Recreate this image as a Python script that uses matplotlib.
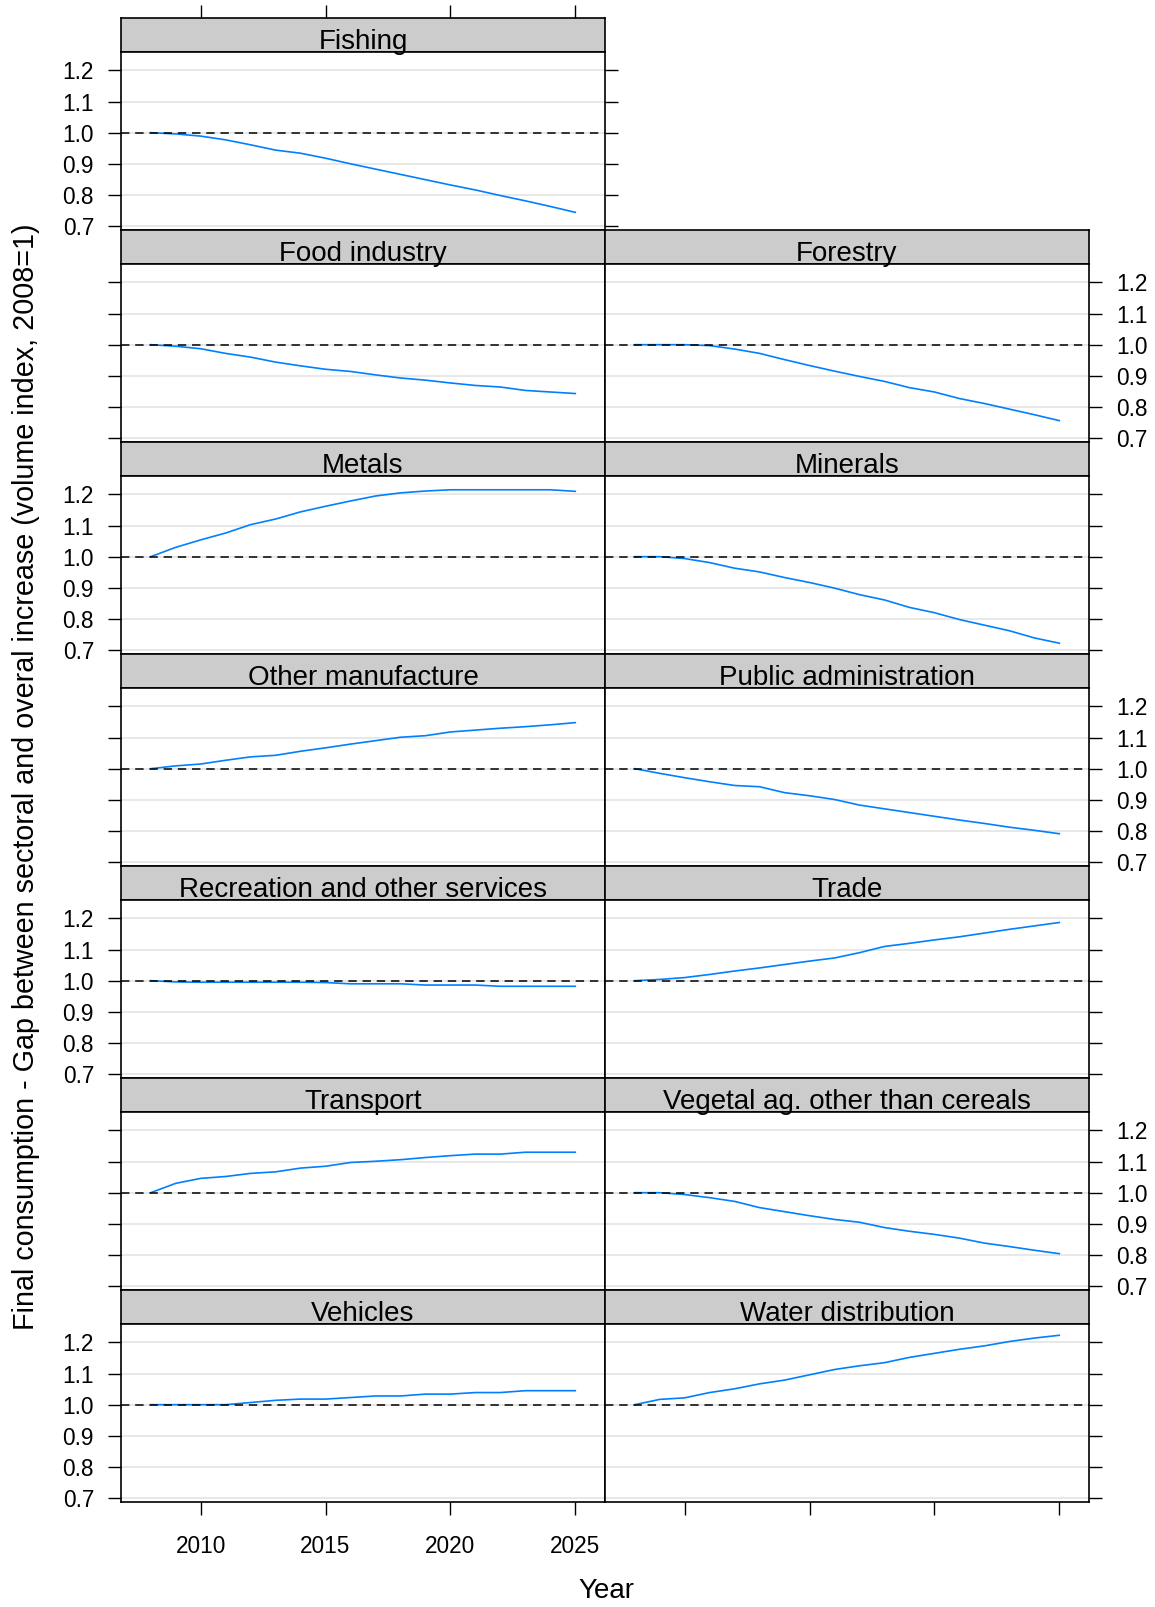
import matplotlib
matplotlib.use("Agg")
from matplotlib import pyplot as plt

years = list(range(2008, 2026))

# values, one list per sector (2008..2025)
fishing = [1.0, 0.996, 0.989, 0.977, 0.961, 0.944, 0.934, 0.918, 0.900, 0.883,
           0.866, 0.849, 0.832, 0.816, 0.798, 0.781, 0.763, 0.744]
food_industry = [1.0, 0.995, 0.987, 0.972, 0.960, 0.944, 0.932, 0.921, 0.914, 0.903,
                 0.893, 0.886, 0.877, 0.869, 0.864, 0.853, 0.848, 0.843]
forestry = [1.0, 1.0, 1.0, 0.997, 0.986, 0.972, 0.952, 0.933, 0.915, 0.898,
            0.882, 0.862, 0.848, 0.827, 0.811, 0.793, 0.775, 0.756]
metals = [1.0, 1.030, 1.054, 1.076, 1.103, 1.121, 1.144, 1.162, 1.179, 1.195,
          1.205, 1.211, 1.215, 1.215, 1.215, 1.215, 1.215, 1.210]
minerals = [1.0, 1.0, 0.994, 0.981, 0.963, 0.951, 0.933, 0.917, 0.899, 0.878,
            0.861, 0.837, 0.820, 0.798, 0.780, 0.762, 0.739, 0.722]
other_manufacture = [1.0, 1.009, 1.015, 1.027, 1.038, 1.043, 1.056, 1.067, 1.079, 1.090,
                     1.101, 1.106, 1.118, 1.124, 1.130, 1.135, 1.141, 1.148]
public_admin = [1.0, 0.985, 0.971, 0.958, 0.946, 0.942, 0.923, 0.913, 0.901, 0.883,
                0.871, 0.859, 0.847, 0.835, 0.824, 0.812, 0.802, 0.791]
recreation = [1.0, 0.996, 0.995, 0.995, 0.995, 0.995, 0.995, 0.994, 0.990, 0.990,
              0.990, 0.986, 0.986, 0.986, 0.982, 0.982, 0.982, 0.982]
trade = [1.0, 1.004, 1.010, 1.020, 1.031, 1.041, 1.052, 1.063, 1.073, 1.090,
         1.110, 1.120, 1.131, 1.141, 1.153, 1.165, 1.176, 1.187]
transport = [1.0, 1.030, 1.046, 1.052, 1.062, 1.067, 1.079, 1.085, 1.097, 1.101,
             1.106, 1.113, 1.119, 1.124, 1.124, 1.130, 1.130, 1.130]
vegetal = [1.0, 1.0, 0.994, 0.984, 0.972, 0.952, 0.939, 0.926, 0.914, 0.905,
           0.888, 0.876, 0.866, 0.854, 0.838, 0.827, 0.815, 0.804]
vehicles = [1.0, 1.0, 1.0, 1.0, 1.007, 1.014, 1.018, 1.018, 1.023, 1.028,
            1.028, 1.034, 1.034, 1.039, 1.039, 1.045, 1.045, 1.045]
water = [1.0, 1.017, 1.022, 1.039, 1.051, 1.067, 1.079, 1.096, 1.113, 1.125,
         1.135, 1.152, 1.165, 1.178, 1.189, 1.203, 1.214, 1.223]

sectors = ["Fishing", "Food industry", "Forestry", "Metals", "Minerals",
           "Other manufacture", "Public administration",
           "Recreation and other services", "Trade", "Transport",
           "Vegetal ag. other than cereals", "Vehicles", "Water distribution"]
series = [fishing, food_industry, forestry, metals, minerals, other_manufacture,
          public_admin, recreation, trade, transport, vegetal, vehicles, water]

y_ticks = [0.7, 0.8, 0.9, 1.0, 1.1, 1.2]
x_ticks = [2010, 2015, 2020, 2025]

W, H = 1155, 1607
plt.rcParams['font.family'] = ['Liberation Sans', 'DejaVu Sans']
fig = plt.figure(figsize=(W / 100, H / 100), dpi=100)

# pixel box (from top-left) -> figure fraction
def box(x0, y0, w, h):
    return [x0 / W, 1 - (y0 + h) / H, w / W, h / H]

left_x = [121, 605]
col_w = 484
top0 = 18.4
row_h = 212
strip_h = 34
panel_h = 178
tick_len = 9.4
frame_lw = 1.2

for i, name in enumerate(sectors):
    # lattice-like fill: Fishing alone on top, then two per row
    if i == 0:
        row, col = 0, 0
    else:
        row, col = (i + 1) // 2, (i + 1) % 2
    ytop = top0 + row * row_h

    sax = fig.add_axes(box(left_x[col], ytop, col_w, strip_h))
    ax = fig.add_axes(box(left_x[col], ytop + strip_h, col_w, panel_h))

    # strip
    sax.set_facecolor('#cccccc')
    sax.set_xlim(2006.81, 2026.19)
    sax.set_ylim(0, 1)
    sax.set_yticks([])
    for s in sax.spines.values():
        s.set_linewidth(frame_lw)
    # strip label on the figure so descenders sit over the panel border
    fig.text((left_x[col] + col_w / 2) / W, 1 - (ytop + strip_h - 3.4) / H, name,
             ha='center', va='baseline', fontsize=20, zorder=10)
    if row == 0:
        sax.set_xticks(x_ticks)
        sax.xaxis.tick_top()
        sax.tick_params(axis='x', direction='out', length=tick_len, width=1,
                        labeltop=False)
    else:
        sax.set_xticks([])

    # panel
    ax.yaxis.grid(True, color='#e6e6e6', lw=1.3)
    ax.set_axisbelow(True)
    ax.plot(years, series[i], color='#0080ff', lw=1.2, zorder=2)
    ax.axhline(1.0, color='black', lw=1.1, dashes=(5.5, 3.8), zorder=3)
    ax.set_xlim(2006.81, 2026.19)
    ax.set_ylim(0.686, 1.258)
    ax.set_yticks(y_ticks)
    ax.set_yticklabels(["%.1f" % v for v in y_ticks])
    ax.set_xticks(x_ticks)
    for s in ax.spines.values():
        s.set_linewidth(frame_lw)

    ax.tick_params(direction='out', length=tick_len, width=1, labelsize=16.3)
    left_on = col == 0
    right_on = col == 1 or i == 0
    ax.tick_params(axis='y', left=left_on, right=right_on,
                   labelleft=(col == 0 and row % 2 == 0),
                   labelright=(col == 1 and row % 2 == 1), pad=10)
    ax.tick_params(axis='x', top=False, bottom=(row == 6),
                   labelbottom=(row == 6 and col == 0), pad=14)

fig.text(25.6 / W, 1 - 777 / H,
         "Final consumption - Gap between sectoral and overal increase (volume index, 2008=1)",
         rotation=90, ha='center', va='center', fontsize=20.7)
fig.text(606 / W, 1 - 1591 / H, "Year", ha='center', va='center', fontsize=20)

fig.savefig("out.png", dpi=100)
